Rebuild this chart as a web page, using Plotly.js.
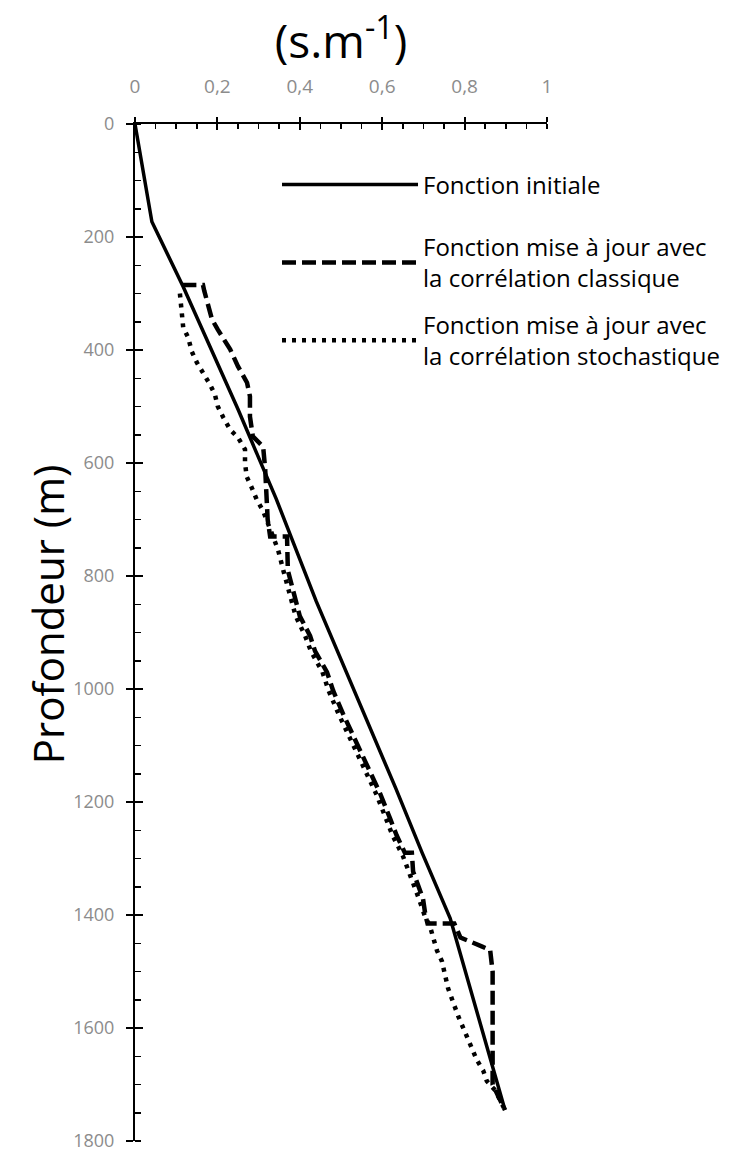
<!DOCTYPE html>
<html>
<head>
<meta charset="utf-8">
<script src="https://cdn.plot.ly/plotly-3.0.1.min.js"></script>
<style>html,body{margin:0;padding:0;background:#fff}#chart{width:747px;height:1153px}</style>
</head>
<body>
<div id="chart"></div>
<script>
// Series names (legend)
const seriesNames = [
  'Fonction initiale',
  'Fonction mise à jour avec<br>la corrélation classique',
  'Fonction mise à jour avec<br>la corrélation stochastique'
];

// Fonction initiale : slowness (s/m) vs depth (m)
const slowInitial  = [0, 0.041, 0.117, 0.25, 0.343, 0.44, 0.633, 0.697, 0.765, 0.837, 0.898];
const depthInitial = [0, 173, 288, 505, 664, 845, 1176, 1290, 1406, 1590, 1745];

// Corrélation classique
const slowClassic  = [0.115, 0.165, 0.168, 0.187, 0.201, 0.231, 0.25, 0.272, 0.279, 0.279, 0.286, 0.311, 0.316, 0.318, 0.322, 0.328, 0.369, 0.371, 0.383, 0.40, 0.425, 0.437, 0.466, 0.481, 0.505, 0.539, 0.57, 0.595, 0.619, 0.635, 0.655, 0.672, 0.675, 0.687, 0.699, 0.705, 0.71, 0.775, 0.79, 0.84, 0.862, 0.868, 0.868, 0.898];
const depthClassic = [285, 285, 295, 346, 364, 399, 429, 458, 482, 518, 553, 571, 611, 659, 700, 730, 730, 790, 823, 871, 906, 933, 970, 1003, 1044, 1097, 1145, 1185, 1229, 1259, 1290, 1290, 1323, 1348, 1371, 1401, 1415, 1415, 1440, 1455, 1462, 1500, 1700, 1745];

// Corrélation stochastique
const slowStoch  = [0.109, 0.113, 0.117, 0.129, 0.138, 0.15, 0.165, 0.182, 0.194, 0.201, 0.214, 0.231, 0.25, 0.267, 0.267, 0.271, 0.283, 0.295, 0.311, 0.33, 0.347, 0.36, 0.373, 0.39, 0.413, 0.427, 0.455, 0.47, 0.494, 0.528, 0.56, 0.585, 0.609, 0.625, 0.65, 0.665, 0.677, 0.689, 0.703, 0.716, 0.723, 0.733, 0.745, 0.752, 0.76, 0.785, 0.81, 0.83, 0.845, 0.854, 0.874, 0.898];
const depthStoch = [300, 334, 360, 378, 403, 422, 440, 461, 479, 500, 519, 541, 555, 576, 599, 624, 643, 664, 685, 720, 753, 790, 823, 871, 906, 933, 970, 1003, 1044, 1097, 1145, 1185, 1229, 1259, 1295, 1323, 1348, 1371, 1401, 1420, 1438, 1463, 1482, 1507, 1530, 1580, 1625, 1657, 1675, 1694, 1710, 1745];

const traces = [
  {x: slowInitial, y: depthInitial, name: seriesNames[0], legend: 'legend', mode: 'lines',
   line: {color: '#000', width: 3.5}},
  {x: slowClassic, y: depthClassic, name: seriesNames[1], legend: 'legend2', mode: 'lines',
   line: {color: '#000', width: 4.5, dash: '14px,6px'}},
  {x: slowStoch, y: depthStoch, name: seriesNames[2], legend: 'legend3', mode: 'lines',
   line: {color: '#000', width: 4.5, dash: '4px,6px'}},
  {x: [], y: [], xaxis: 'x2', yaxis: 'y2', showlegend: false, hoverinfo: 'skip', mode: 'lines'}
];

const tickGray = '#8c8c8c';
function legendAt(yPaper) {
  return {x: 0.3447, xanchor: 'left', y: yPaper, yanchor: 'middle', bgcolor: 'rgba(0,0,0,0)',
          font: {size: 24, color: '#000'}, itemwidth: 136, valign: 'middle'};
}
const layout = {
  width: 747, height: 1153,
  margin: {l: 135, r: 200, t: 124, b: 12},
  paper_bgcolor: '#fff', plot_bgcolor: '#fff',
  separators: ', ',
  font: {family: '"Open Sans", sans-serif', color: '#000'},
  showlegend: true,
  legend: legendAt(0.940),
  legend2: legendAt(0.8636),
  legend3: legendAt(0.787),
  xaxis: {side: 'top', range: [0, 1], tick0: 0, dtick: 0.2, showgrid: false, zeroline: false,
          showline: true, linecolor: '#000', linewidth: 2,
          ticks: 'outside', ticklen: 5, tickwidth: 2, tickcolor: '#000',
          tickfont: {size: 19, color: tickGray}, ticklabelstandoff: 16,
          minor: {ticks: 'inside', ticklen: 5, tickwidth: 1.5, tickcolor: '#000', dtick: 0.05, showgrid: false},
          title: {text: '(s.m<sup>-1</sup>)', font: {size: 46, color: '#000'}, standoff: 0}},
  xaxis2: {overlaying: 'x', anchor: 'y2', side: 'top', range: [0, 1], tick0: 0, dtick: 0.2,
           ticks: 'inside', ticklen: 6, tickwidth: 2, tickcolor: '#000',
           showticklabels: false, showgrid: false, zeroline: false, showline: false},
  yaxis: {range: [1800, 0], tick0: 0, dtick: 200, showgrid: false, zeroline: false,
          showline: true, linecolor: '#000', linewidth: 2,
          ticks: 'outside', ticklen: 7, tickwidth: 2, tickcolor: '#000',
          tickfont: {size: 18, color: tickGray}, ticklabelstandoff: 8, ticklabeloverflow: 'allow',
          minor: {ticks: 'inside', ticklen: 6, tickwidth: 1.5, tickcolor: '#000', dtick: 50, showgrid: false}},
  yaxis2: {overlaying: 'y', anchor: 'x2', range: [1800, 0], tick0: 0, dtick: 200,
           ticks: 'inside', ticklen: 8, tickwidth: 2, tickcolor: '#000',
           showticklabels: false, showgrid: false, zeroline: false, showline: false},
  annotations: [
    {text: 'Profondeur (m)', textangle: -90, xref: 'paper', yref: 'paper',
     x: -0.2136, y: 0.518, xanchor: 'center', yanchor: 'middle', showarrow: false,
     font: {size: 42, color: '#000'}}
  ]
};

Plotly.newPlot('chart', traces, layout, {displayModeBar: false, staticPlot: true});
</script>
</body>
</html>
